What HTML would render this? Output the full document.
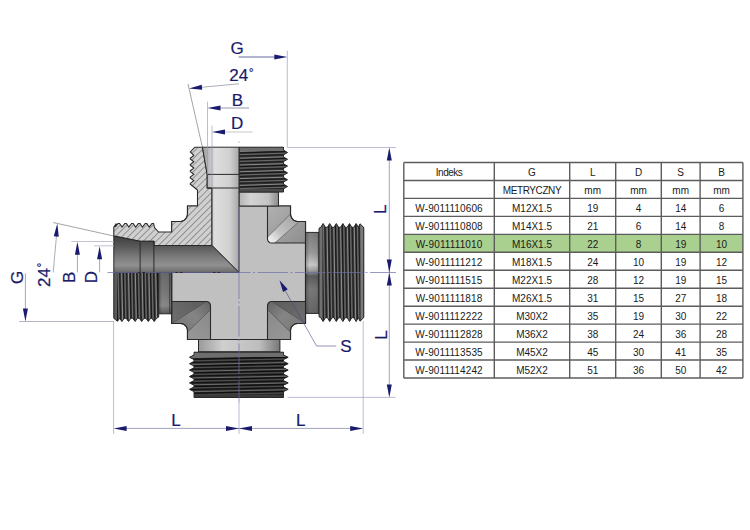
<!DOCTYPE html>
<html><head><meta charset="utf-8"><style>
html,body{margin:0;padding:0;background:#fff;width:750px;height:530px;overflow:hidden}
svg{display:block}
</style></head><body>
<svg width="750" height="530" viewBox="0 0 750 530">

<defs>
 <pattern id="hatch" patternUnits="userSpaceOnUse" width="4.6" height="4.6" patternTransform="rotate(45)">
  <rect width="4.6" height="4.6" fill="#d0d0d0"/>
  <line x1="0" y1="0" x2="0" y2="4.6" stroke="#505050" stroke-width="0.95"/>
 </pattern>
 <linearGradient id="boreTop" x1="0" y1="0" x2="1" y2="0">
  <stop offset="0" stop-color="#9a9a9a"/><stop offset="0.35" stop-color="#dedede"/><stop offset="0.75" stop-color="#d0d0d0"/><stop offset="1" stop-color="#a8a8a8"/>
 </linearGradient>
 <linearGradient id="boreLeft" x1="0" y1="0" x2="0" y2="1">
  <stop offset="0" stop-color="#3e3e3e"/><stop offset="0.3" stop-color="#5a5a5a"/><stop offset="0.6" stop-color="#7e7e7e"/><stop offset="0.8" stop-color="#909090"/><stop offset="1" stop-color="#6a6a6a"/>
 </linearGradient>
 <linearGradient id="neckV" x1="0" y1="0" x2="0" y2="1">
  <stop offset="0" stop-color="#7c7c7c"/><stop offset="0.25" stop-color="#9a9a9a"/><stop offset="0.4" stop-color="#cacaca"/><stop offset="0.47" stop-color="#a0a0a0"/><stop offset="0.54" stop-color="#5c5c5c"/><stop offset="0.7" stop-color="#7a7a7a"/><stop offset="1" stop-color="#666"/>
 </linearGradient>
 <linearGradient id="neckH" x1="0" y1="0" x2="1" y2="0">
  <stop offset="0" stop-color="#9a9a9a"/><stop offset="0.3" stop-color="#cfcfcf"/><stop offset="0.75" stop-color="#bdbdbd"/><stop offset="1" stop-color="#777"/>
 </linearGradient>
 <linearGradient id="neckShadeH" x1="0" y1="0" x2="1" y2="0">
  <stop offset="0" stop-color="#000" stop-opacity="0.25"/><stop offset="0.3" stop-color="#000" stop-opacity="0"/><stop offset="0.8" stop-color="#000" stop-opacity="0.05"/><stop offset="1" stop-color="#000" stop-opacity="0.25"/>
 </linearGradient>
 <linearGradient id="neckL" x1="0" y1="0" x2="0" y2="1">
  <stop offset="0" stop-color="#6a6a6a"/><stop offset="0.5" stop-color="#7a7a7a"/><stop offset="0.8" stop-color="#8a8a8a"/><stop offset="1" stop-color="#5a5a5a"/>
 </linearGradient>
 <linearGradient id="neckTop" x1="0" y1="0" x2="1" y2="0">
  <stop offset="0" stop-color="#b4b4b4"/><stop offset="0.3" stop-color="#d4d4d4"/><stop offset="0.75" stop-color="#c2c2c2"/><stop offset="1" stop-color="#8a8a8a"/>
 </linearGradient>
 <linearGradient id="thrH" x1="0" y1="0" x2="1" y2="0">
  <stop offset="0" stop-color="#3a3a3a"/><stop offset="0.5" stop-color="#454545"/><stop offset="1" stop-color="#2a2a2a"/>
 </linearGradient>
 <linearGradient id="thrV" x1="0" y1="0" x2="0" y2="1">
  <stop offset="0" stop-color="#3a3a3a"/><stop offset="0.5" stop-color="#454545"/><stop offset="1" stop-color="#2a2a2a"/>
 </linearGradient>
 <linearGradient id="cornerG" x1="0" y1="0" x2="1" y2="1">
  <stop offset="0" stop-color="#8a8a8a"/><stop offset="1" stop-color="#6e6e6e"/>
 </linearGradient>
 <linearGradient id="filTR" gradientUnits="userSpaceOnUse" x1="270" y1="242" x2="296" y2="216">
  <stop offset="0" stop-color="#f4f4f4"/><stop offset="0.35" stop-color="#c4c4c4"/><stop offset="1" stop-color="#a4a4a4"/>
 </linearGradient>
 <linearGradient id="trA" gradientUnits="userSpaceOnUse" x1="268" y1="206" x2="305" y2="243">
  <stop offset="0" stop-color="#b0b0b0"/><stop offset="0.5" stop-color="#a0a0a0"/><stop offset="1" stop-color="#8e8e8e"/>
 </linearGradient>
 <linearGradient id="brA" gradientUnits="userSpaceOnUse" x1="268" y1="310" x2="290" y2="339">
  <stop offset="0" stop-color="#8a8a8a"/><stop offset="1" stop-color="#979797"/>
 </linearGradient>
 <linearGradient id="brTop" gradientUnits="userSpaceOnUse" x1="280" y1="301" x2="305" y2="323">
  <stop offset="0" stop-color="#5e5e5e"/><stop offset="1" stop-color="#6e6e6e"/>
 </linearGradient>
 <linearGradient id="filBR" gradientUnits="userSpaceOnUse" x1="270" y1="304" x2="297" y2="327">
  <stop offset="0" stop-color="#6a6a6a"/><stop offset="0.5" stop-color="#858585"/><stop offset="1" stop-color="#7a7a7a"/>
 </linearGradient>
 <linearGradient id="blA" gradientUnits="userSpaceOnUse" x1="210" y1="310" x2="188" y2="339">
  <stop offset="0" stop-color="#8a8a8a"/><stop offset="1" stop-color="#979797"/>
 </linearGradient>
 <linearGradient id="blTop" gradientUnits="userSpaceOnUse" x1="198" y1="301" x2="172" y2="323">
  <stop offset="0" stop-color="#5e5e5e"/><stop offset="1" stop-color="#6e6e6e"/>
 </linearGradient>
 <linearGradient id="filBL" gradientUnits="userSpaceOnUse" x1="208" y1="304" x2="181" y2="327">
  <stop offset="0" stop-color="#6a6a6a"/><stop offset="0.5" stop-color="#858585"/><stop offset="1" stop-color="#7a7a7a"/>
 </linearGradient>
 <linearGradient id="filB" x1="0" y1="0" x2="1" y2="1">
  <stop offset="0" stop-color="#8a8a8a"/><stop offset="1" stop-color="#6a6a6a"/>
 </linearGradient>
</defs>

<path d="M187.5 206L290.5 206L290.5 214L290.64 215.46L291.07 216.87L291.76 218.17L292.7 219.3L293.83 220.24L295.13 220.93L296.54 221.36L298 221.5L305.5 221.5L305.5 323.5L297.5 323.5L297.5 323.5L296.13 323.63L294.82 324.03L293.61 324.68L292.55 325.55L291.68 326.61L291.03 327.82L290.63 329.13L290.5 330.5L290.5 339.5L187.5 339.5L187.5 330.5L187.5 330.5L187.37 329.13L186.97 327.82L186.32 326.61L185.45 325.55L184.39 324.68L183.18 324.03L181.87 323.63L180.5 323.5L171.7 323.5L171.7 221.5L180 221.5L180 221.5L181.46 221.36L182.87 220.93L184.17 220.24L185.3 219.3L186.24 218.17L186.93 216.87L187.36 215.46L187.5 214Z" fill="#c0c0c0" stroke="#2a2a2a" stroke-width="1.2"/>
<clipPath id="cTR"><path d="M267.5 206L290.5 206L290.5 214L290.64 215.46L291.07 216.87L291.76 218.17L292.7 219.3L293.83 220.24L295.13 220.93L296.54 221.36L298 221.5L305.5 221.5L305.5 243L271.5 243L271.5 243L269.97 242.7L268.67 241.83L267.8 240.53L267.5 239Z"/></clipPath>
<g clip-path="url(#cTR)"><path d="M267.5 206L290.5 206L290.5 214L290.64 215.46L291.07 216.87L291.76 218.17L292.7 219.3L293.83 220.24L295.13 220.93L296.54 221.36L298 221.5L305.5 221.5L305.5 243L271.5 243L271.5 243L269.97 242.7L268.67 241.83L267.8 240.53L267.5 239Z" fill="url(#trA)" stroke="none" stroke-width="0.7"/><path d="M266 238.6L290.5 214L290.5 214L290.64 215.46L291.07 216.87L291.76 218.17L292.7 219.3L293.83 220.24L295.13 220.93L296.54 221.36L298 221.5L298.6 222.2L273.7 244L266 244Z" fill="url(#filTR)" stroke="#5a5a5a" stroke-width="0.7"/></g>
<path d="M267.5 206L290.5 206L290.5 214L290.64 215.46L291.07 216.87L291.76 218.17L292.7 219.3L293.83 220.24L295.13 220.93L296.54 221.36L298 221.5L305.5 221.5L305.5 243L271.5 243L271.5 243L269.97 242.7L268.67 241.83L267.8 240.53L267.5 239Z" fill="none" stroke="#2a2a2a" stroke-width="1.1"/>
<clipPath id="cBR"><path d="M271.5 301.5L305.5 301.5L305.5 323.5L297.5 323.5L297.5 323.5L296.13 323.63L294.82 324.03L293.61 324.68L292.55 325.55L291.68 326.61L291.03 327.82L290.63 329.13L290.5 330.5L290.5 339.5L267.5 339.5L267.5 305.5L267.5 305.5L267.8 303.97L268.67 302.67L269.97 301.8L271.5 301.5Z"/></clipPath>
<g clip-path="url(#cBR)"><path d="M271.5 301.5L305.5 301.5L305.5 323.5L297.5 323.5L297.5 323.5L296.13 323.63L294.82 324.03L293.61 324.68L292.55 325.55L291.68 326.61L291.03 327.82L290.63 329.13L290.5 330.5L290.5 339.5L267.5 339.5L267.5 305.5L267.5 305.5L267.8 303.97L268.67 302.67L269.97 301.8L271.5 301.5Z" fill="url(#brA)" stroke="none" stroke-width="0.7"/><path d="M305.5 301L305.5 323.5L271.4 301.5Z" fill="url(#brTop)" stroke="none" stroke-width="0.7"/><path d="M266 306.4L271.4 301.5L305.5 323.5L297.5 323.5L297.5 323.5L296.13 323.63L294.82 324.03L293.61 324.68L292.55 325.55L291.68 326.61L291.03 327.82L290.63 329.13L290.5 330.5L289.4 331L266 308Z" fill="url(#filBR)" stroke="#4e4e4e" stroke-width="0.7"/></g>
<path d="M271.5 301.5L305.5 301.5L305.5 323.5L297.5 323.5L297.5 323.5L296.13 323.63L294.82 324.03L293.61 324.68L292.55 325.55L291.68 326.61L291.03 327.82L290.63 329.13L290.5 330.5L290.5 339.5L267.5 339.5L267.5 305.5L267.5 305.5L267.8 303.97L268.67 302.67L269.97 301.8L271.5 301.5Z" fill="none" stroke="#2a2a2a" stroke-width="1.1"/>
<clipPath id="cBL"><path d="M171.7 301.5L206.5 301.5L206.5 301.5L208.03 301.8L209.33 302.67L210.2 303.97L210.5 305.5L210.5 339.5L187.5 339.5L187.5 330.5L187.5 330.5L187.37 329.13L186.97 327.82L186.32 326.61L185.45 325.55L184.39 324.68L183.18 324.03L181.87 323.63L180.5 323.5L171.7 323.5Z"/></clipPath>
<g clip-path="url(#cBL)"><path d="M171.7 301.5L206.5 301.5L206.5 301.5L208.03 301.8L209.33 302.67L210.2 303.97L210.5 305.5L210.5 339.5L187.5 339.5L187.5 330.5L187.5 330.5L187.37 329.13L186.97 327.82L186.32 326.61L185.45 325.55L184.39 324.68L183.18 324.03L181.87 323.63L180.5 323.5L171.7 323.5Z" fill="url(#blA)" stroke="none" stroke-width="0.7"/><path d="M171.7 301L171.7 323.5L206.6 301.5Z" fill="url(#blTop)" stroke="none" stroke-width="0.7"/><path d="M212 306.4L206.6 301.5L171.7 323.5L180.5 323.5L187.5 330.5L187.37 329.13L186.97 327.82L186.32 326.61L185.45 325.55L184.39 324.68L183.18 324.03L181.87 323.63L180.5 323.5L188.6 331L212 308Z" fill="url(#filBL)" stroke="#4e4e4e" stroke-width="0.7"/></g>
<path d="M171.7 301.5L206.5 301.5L206.5 301.5L208.03 301.8L209.33 302.67L210.2 303.97L210.5 305.5L210.5 339.5L187.5 339.5L187.5 330.5L187.5 330.5L187.37 329.13L186.97 327.82L186.32 326.61L185.45 325.55L184.39 324.68L183.18 324.03L181.87 323.63L180.5 323.5L171.7 323.5Z" fill="none" stroke="#2a2a2a" stroke-width="1.1"/>
<rect x="239" y="192" width="39.5" height="14" fill="url(#neckTop)" stroke="#2a2a2a" stroke-width="1"/>
<rect x="198.5" y="339.5" width="81.4" height="12.2" fill="url(#neckH)" stroke="#2a2a2a" stroke-width="1"/>
<rect x="305.5" y="232.4" width="13.5" height="81" fill="url(#neckV)" stroke="#2a2a2a" stroke-width="1"/>
<rect x="305.5" y="232.4" width="13.5" height="81" fill="url(#neckShadeH)"/>
<rect x="158.5" y="272.5" width="13.2" height="41.3" fill="url(#neckL)" stroke="#2a2a2a" stroke-width="1"/>
<rect x="158.5" y="272.5" width="13.2" height="41.3" fill="url(#neckShadeH)"/>
<line x1="169.6" y1="273" x2="169.6" y2="313.3" stroke="#3a3a3a" stroke-width="0.8" />
<clipPath id="clp1"><path d="M239 147.2L283.5 147.2L283.5 150.2L287.5 152.5L283.5 154.8L283.5 157L287.5 159.3L283.5 161.6L283.5 163.8L287.5 166.1L283.5 168.4L283.5 170.6L287.5 172.9L283.5 175.2L283.5 177.4L287.5 179.7L283.5 182L283.5 184.2L287.5 186.5L283.5 188.8L283.5 192L239 192Z"/></clipPath>
<path d="M239 147.2L283.5 147.2L283.5 150.2L287.5 152.5L283.5 154.8L283.5 157L287.5 159.3L283.5 161.6L283.5 163.8L287.5 166.1L283.5 168.4L283.5 170.6L287.5 172.9L283.5 175.2L283.5 177.4L287.5 179.7L283.5 182L283.5 184.2L287.5 186.5L283.5 188.8L283.5 192L239 192Z" fill="#343434"/>
<g clip-path="url(#clp1)"><line x1="239" y1="144.6" x2="288" y2="143.1" stroke="#969696" stroke-width="0.9" /><line x1="239" y1="146.2" x2="288" y2="144.7" stroke="#141414" stroke-width="1.0" /><line x1="239" y1="147.8" x2="288" y2="146.3" stroke="#7a7a7a" stroke-width="0.8" /><line x1="239" y1="149.4" x2="288" y2="147.9" stroke="#1a1a1a" stroke-width="0.9" /><line x1="239" y1="151.4" x2="288" y2="149.9" stroke="#969696" stroke-width="0.9" /><line x1="239" y1="153" x2="288" y2="151.5" stroke="#141414" stroke-width="1.0" /><line x1="239" y1="154.6" x2="288" y2="153.1" stroke="#7a7a7a" stroke-width="0.8" /><line x1="239" y1="156.2" x2="288" y2="154.7" stroke="#1a1a1a" stroke-width="0.9" /><line x1="239" y1="158.2" x2="288" y2="156.7" stroke="#969696" stroke-width="0.9" /><line x1="239" y1="159.8" x2="288" y2="158.3" stroke="#141414" stroke-width="1.0" /><line x1="239" y1="161.4" x2="288" y2="159.9" stroke="#7a7a7a" stroke-width="0.8" /><line x1="239" y1="163" x2="288" y2="161.5" stroke="#1a1a1a" stroke-width="0.9" /><line x1="239" y1="165" x2="288" y2="163.5" stroke="#969696" stroke-width="0.9" /><line x1="239" y1="166.6" x2="288" y2="165.1" stroke="#141414" stroke-width="1.0" /><line x1="239" y1="168.2" x2="288" y2="166.7" stroke="#7a7a7a" stroke-width="0.8" /><line x1="239" y1="169.8" x2="288" y2="168.3" stroke="#1a1a1a" stroke-width="0.9" /><line x1="239" y1="171.8" x2="288" y2="170.3" stroke="#969696" stroke-width="0.9" /><line x1="239" y1="173.4" x2="288" y2="171.9" stroke="#141414" stroke-width="1.0" /><line x1="239" y1="175" x2="288" y2="173.5" stroke="#7a7a7a" stroke-width="0.8" /><line x1="239" y1="176.6" x2="288" y2="175.1" stroke="#1a1a1a" stroke-width="0.9" /><line x1="239" y1="178.6" x2="288" y2="177.1" stroke="#969696" stroke-width="0.9" /><line x1="239" y1="180.2" x2="288" y2="178.7" stroke="#141414" stroke-width="1.0" /><line x1="239" y1="181.8" x2="288" y2="180.3" stroke="#7a7a7a" stroke-width="0.8" /><line x1="239" y1="183.4" x2="288" y2="181.9" stroke="#1a1a1a" stroke-width="0.9" /><line x1="239" y1="185.4" x2="288" y2="183.9" stroke="#969696" stroke-width="0.9" /><line x1="239" y1="187" x2="288" y2="185.5" stroke="#141414" stroke-width="1.0" /><line x1="239" y1="188.6" x2="288" y2="187.1" stroke="#7a7a7a" stroke-width="0.8" /><line x1="239" y1="190.2" x2="288" y2="188.7" stroke="#1a1a1a" stroke-width="0.9" /><line x1="239" y1="192.2" x2="288" y2="190.7" stroke="#969696" stroke-width="0.9" /><line x1="239" y1="193.8" x2="288" y2="192.3" stroke="#141414" stroke-width="1.0" /><line x1="239" y1="195.4" x2="288" y2="193.9" stroke="#7a7a7a" stroke-width="0.8" /><line x1="239" y1="197" x2="288" y2="195.5" stroke="#1a1a1a" stroke-width="0.9" /><line x1="239" y1="199" x2="288" y2="197.5" stroke="#969696" stroke-width="0.9" /><line x1="239" y1="200.6" x2="288" y2="199.1" stroke="#141414" stroke-width="1.0" /><line x1="239" y1="202.2" x2="288" y2="200.7" stroke="#7a7a7a" stroke-width="0.8" /><line x1="239" y1="203.8" x2="288" y2="202.3" stroke="#1a1a1a" stroke-width="0.9" /><rect x="239" y="147" width="50" height="4" fill="#707070"/><rect x="239" y="189" width="50" height="3" fill="#4a4a4a"/></g>
<path d="M239 147.2L283.5 147.2L283.5 150.2L287.5 152.5L283.5 154.8L283.5 157L287.5 159.3L283.5 161.6L283.5 163.8L287.5 166.1L283.5 168.4L283.5 170.6L287.5 172.9L283.5 175.2L283.5 177.4L287.5 179.7L283.5 182L283.5 184.2L287.5 186.5L283.5 188.8L283.5 192L239 192Z" fill="none" stroke="#2a2a2a" stroke-width="1"/>
<clipPath id="clp2"><path d="M194 352.2L283.5 352.2L283.5 353.5L283.5 355L288.2 357.3L283.5 359.6L283.5 361.4L288.2 363.7L283.5 366L283.5 367.8L288.2 370.1L283.5 372.4L283.5 374.2L288.2 376.5L283.5 378.8L283.5 380.6L288.2 382.9L283.5 385.2L283.5 387L288.2 389.3L283.5 391.6L283.5 397.5L194 397.5L194 391.6L189.5 389.3L194 387L194 385.2L189.5 382.9L194 380.6L194 378.8L189.5 376.5L194 374.2L194 372.4L189.5 370.1L194 367.8L194 366L189.5 363.7L194 361.4L194 359.6L189.5 357.3L194 355L194 353.5Z"/></clipPath>
<path d="M194 352.2L283.5 352.2L283.5 353.5L283.5 355L288.2 357.3L283.5 359.6L283.5 361.4L288.2 363.7L283.5 366L283.5 367.8L288.2 370.1L283.5 372.4L283.5 374.2L288.2 376.5L283.5 378.8L283.5 380.6L288.2 382.9L283.5 385.2L283.5 387L288.2 389.3L283.5 391.6L283.5 397.5L194 397.5L194 391.6L189.5 389.3L194 387L194 385.2L189.5 382.9L194 380.6L194 378.8L189.5 376.5L194 374.2L194 372.4L189.5 370.1L194 367.8L194 366L189.5 363.7L194 361.4L194 359.6L189.5 357.3L194 355L194 353.5Z" fill="#303030"/>
<g clip-path="url(#clp2)"><line x1="189" y1="350.9" x2="289" y2="348.9" stroke="#7c7c7c" stroke-width="0.8" /><line x1="189" y1="352.5" x2="289" y2="350.5" stroke="#0e0e0e" stroke-width="1.3" /><line x1="189" y1="354.1" x2="289" y2="352.1" stroke="#5e5e5e" stroke-width="0.7" /><line x1="189" y1="355.7" x2="289" y2="353.7" stroke="#121212" stroke-width="1.2" /><line x1="189" y1="357.7" x2="289" y2="355.7" stroke="#7c7c7c" stroke-width="0.8" /><line x1="189" y1="359.3" x2="289" y2="357.3" stroke="#0e0e0e" stroke-width="1.3" /><line x1="189" y1="360.9" x2="289" y2="358.9" stroke="#5e5e5e" stroke-width="0.7" /><line x1="189" y1="362.5" x2="289" y2="360.5" stroke="#121212" stroke-width="1.2" /><line x1="189" y1="364.5" x2="289" y2="362.5" stroke="#7c7c7c" stroke-width="0.8" /><line x1="189" y1="366.1" x2="289" y2="364.1" stroke="#0e0e0e" stroke-width="1.3" /><line x1="189" y1="367.7" x2="289" y2="365.7" stroke="#5e5e5e" stroke-width="0.7" /><line x1="189" y1="369.3" x2="289" y2="367.3" stroke="#121212" stroke-width="1.2" /><line x1="189" y1="371.3" x2="289" y2="369.3" stroke="#7c7c7c" stroke-width="0.8" /><line x1="189" y1="372.9" x2="289" y2="370.9" stroke="#0e0e0e" stroke-width="1.3" /><line x1="189" y1="374.5" x2="289" y2="372.5" stroke="#5e5e5e" stroke-width="0.7" /><line x1="189" y1="376.1" x2="289" y2="374.1" stroke="#121212" stroke-width="1.2" /><line x1="189" y1="378.1" x2="289" y2="376.1" stroke="#7c7c7c" stroke-width="0.8" /><line x1="189" y1="379.7" x2="289" y2="377.7" stroke="#0e0e0e" stroke-width="1.3" /><line x1="189" y1="381.3" x2="289" y2="379.3" stroke="#5e5e5e" stroke-width="0.7" /><line x1="189" y1="382.9" x2="289" y2="380.9" stroke="#121212" stroke-width="1.2" /><line x1="189" y1="384.9" x2="289" y2="382.9" stroke="#7c7c7c" stroke-width="0.8" /><line x1="189" y1="386.5" x2="289" y2="384.5" stroke="#0e0e0e" stroke-width="1.3" /><line x1="189" y1="388.1" x2="289" y2="386.1" stroke="#5e5e5e" stroke-width="0.7" /><line x1="189" y1="389.7" x2="289" y2="387.7" stroke="#121212" stroke-width="1.2" /><line x1="189" y1="391.7" x2="289" y2="389.7" stroke="#7c7c7c" stroke-width="0.8" /><line x1="189" y1="393.3" x2="289" y2="391.3" stroke="#0e0e0e" stroke-width="1.3" /><line x1="189" y1="394.9" x2="289" y2="392.9" stroke="#5e5e5e" stroke-width="0.7" /><line x1="189" y1="396.5" x2="289" y2="394.5" stroke="#121212" stroke-width="1.2" /><line x1="189" y1="398.5" x2="289" y2="396.5" stroke="#7c7c7c" stroke-width="0.8" /><line x1="189" y1="400.1" x2="289" y2="398.1" stroke="#0e0e0e" stroke-width="1.3" /><line x1="189" y1="401.7" x2="289" y2="399.7" stroke="#5e5e5e" stroke-width="0.7" /><line x1="189" y1="403.3" x2="289" y2="401.3" stroke="#121212" stroke-width="1.2" /><line x1="189" y1="405.3" x2="289" y2="403.3" stroke="#7c7c7c" stroke-width="0.8" /><line x1="189" y1="406.9" x2="289" y2="404.9" stroke="#0e0e0e" stroke-width="1.3" /><line x1="189" y1="408.5" x2="289" y2="406.5" stroke="#5e5e5e" stroke-width="0.7" /><line x1="189" y1="410.1" x2="289" y2="408.1" stroke="#121212" stroke-width="1.2" /><rect x="189" y="352" width="100" height="5" fill="#6e6e6e"/><rect x="189" y="394.5" width="100" height="3" fill="#3a3a3a"/></g>
<path d="M194 352.2L283.5 352.2L283.5 353.5L283.5 355L288.2 357.3L283.5 359.6L283.5 361.4L288.2 363.7L283.5 366L283.5 367.8L288.2 370.1L283.5 372.4L283.5 374.2L288.2 376.5L283.5 378.8L283.5 380.6L288.2 382.9L283.5 385.2L283.5 387L288.2 389.3L283.5 391.6L283.5 397.5L194 397.5L194 391.6L189.5 389.3L194 387L194 385.2L189.5 382.9L194 380.6L194 378.8L189.5 376.5L194 374.2L194 372.4L189.5 370.1L194 367.8L194 366L189.5 363.7L194 361.4L194 359.6L189.5 357.3L194 355L194 353.5Z" fill="none" stroke="#2a2a2a" stroke-width="1"/>
<clipPath id="clp3"><path d="M319 228.3L320.8 227.3L323.1 223.5L325.4 227.3L327.4 227.3L329.7 223.5L332 227.3L334 227.3L336.3 223.5L338.6 227.3L340.6 227.3L342.9 223.5L345.2 227.3L347.2 227.3L349.5 223.5L351.8 227.3L353.8 227.3L356.1 223.5L358.4 227.3L360 223.8L363.8 227.5L363.8 317.5L360 321.2L358.4 317.7L356.1 321.5L353.8 317.7L351.8 317.7L349.5 321.5L347.2 317.7L345.2 317.7L342.9 321.5L340.6 317.7L338.6 317.7L336.3 321.5L334 317.7L332 317.7L329.7 321.5L327.4 317.7L325.4 317.7L323.1 321.5L320.8 317.7L319 316.7Z"/></clipPath>
<path d="M319 228.3L320.8 227.3L323.1 223.5L325.4 227.3L327.4 227.3L329.7 223.5L332 227.3L334 227.3L336.3 223.5L338.6 227.3L340.6 227.3L342.9 223.5L345.2 227.3L347.2 227.3L349.5 223.5L351.8 227.3L353.8 227.3L356.1 223.5L358.4 227.3L360 223.8L363.8 227.5L363.8 317.5L360 321.2L358.4 317.7L356.1 321.5L353.8 317.7L351.8 317.7L349.5 321.5L347.2 317.7L345.2 317.7L342.9 321.5L340.6 317.7L338.6 317.7L336.3 321.5L334 317.7L332 317.7L329.7 321.5L327.4 317.7L325.4 317.7L323.1 321.5L320.8 317.7L319 316.7Z" fill="#404040"/>
<g clip-path="url(#clp3)"><line x1="313.4" y1="224" x2="314.9" y2="322" stroke="#969696" stroke-width="0.9" /><line x1="315" y1="224" x2="316.5" y2="322" stroke="#141414" stroke-width="1.0" /><line x1="316.6" y1="224" x2="318.1" y2="322" stroke="#7a7a7a" stroke-width="0.8" /><line x1="318.2" y1="224" x2="319.7" y2="322" stroke="#1a1a1a" stroke-width="0.9" /><line x1="320.2" y1="224" x2="321.7" y2="322" stroke="#969696" stroke-width="0.9" /><line x1="321.8" y1="224" x2="323.3" y2="322" stroke="#141414" stroke-width="1.0" /><line x1="323.4" y1="224" x2="324.9" y2="322" stroke="#7a7a7a" stroke-width="0.8" /><line x1="325" y1="224" x2="326.5" y2="322" stroke="#1a1a1a" stroke-width="0.9" /><line x1="327" y1="224" x2="328.5" y2="322" stroke="#969696" stroke-width="0.9" /><line x1="328.6" y1="224" x2="330.1" y2="322" stroke="#141414" stroke-width="1.0" /><line x1="330.2" y1="224" x2="331.7" y2="322" stroke="#7a7a7a" stroke-width="0.8" /><line x1="331.8" y1="224" x2="333.3" y2="322" stroke="#1a1a1a" stroke-width="0.9" /><line x1="333.8" y1="224" x2="335.3" y2="322" stroke="#969696" stroke-width="0.9" /><line x1="335.4" y1="224" x2="336.9" y2="322" stroke="#141414" stroke-width="1.0" /><line x1="337" y1="224" x2="338.5" y2="322" stroke="#7a7a7a" stroke-width="0.8" /><line x1="338.6" y1="224" x2="340.1" y2="322" stroke="#1a1a1a" stroke-width="0.9" /><line x1="340.6" y1="224" x2="342.1" y2="322" stroke="#969696" stroke-width="0.9" /><line x1="342.2" y1="224" x2="343.7" y2="322" stroke="#141414" stroke-width="1.0" /><line x1="343.8" y1="224" x2="345.3" y2="322" stroke="#7a7a7a" stroke-width="0.8" /><line x1="345.4" y1="224" x2="346.9" y2="322" stroke="#1a1a1a" stroke-width="0.9" /><line x1="347.4" y1="224" x2="348.9" y2="322" stroke="#969696" stroke-width="0.9" /><line x1="349" y1="224" x2="350.5" y2="322" stroke="#141414" stroke-width="1.0" /><line x1="350.6" y1="224" x2="352.1" y2="322" stroke="#7a7a7a" stroke-width="0.8" /><line x1="352.2" y1="224" x2="353.7" y2="322" stroke="#1a1a1a" stroke-width="0.9" /><line x1="354.2" y1="224" x2="355.7" y2="322" stroke="#969696" stroke-width="0.9" /><line x1="355.8" y1="224" x2="357.3" y2="322" stroke="#141414" stroke-width="1.0" /><line x1="357.4" y1="224" x2="358.9" y2="322" stroke="#7a7a7a" stroke-width="0.8" /><line x1="359" y1="224" x2="360.5" y2="322" stroke="#1a1a1a" stroke-width="0.9" /><line x1="361" y1="224" x2="362.5" y2="322" stroke="#969696" stroke-width="0.9" /><line x1="362.6" y1="224" x2="364.1" y2="322" stroke="#141414" stroke-width="1.0" /><line x1="364.2" y1="224" x2="365.7" y2="322" stroke="#7a7a7a" stroke-width="0.8" /><line x1="365.8" y1="224" x2="367.3" y2="322" stroke="#1a1a1a" stroke-width="0.9" /><line x1="367.8" y1="224" x2="369.3" y2="322" stroke="#969696" stroke-width="0.9" /><line x1="369.4" y1="224" x2="370.9" y2="322" stroke="#141414" stroke-width="1.0" /><line x1="371" y1="224" x2="372.5" y2="322" stroke="#7a7a7a" stroke-width="0.8" /><line x1="372.6" y1="224" x2="374.1" y2="322" stroke="#1a1a1a" stroke-width="0.9" /><rect x="319" y="223" width="3.5" height="100" fill="#707070"/><rect x="360.5" y="223" width="3.3" height="100" fill="#7a7a7a"/></g>
<path d="M319 228.3L320.8 227.3L323.1 223.5L325.4 227.3L327.4 227.3L329.7 223.5L332 227.3L334 227.3L336.3 223.5L338.6 227.3L340.6 227.3L342.9 223.5L345.2 227.3L347.2 227.3L349.5 223.5L351.8 227.3L353.8 227.3L356.1 223.5L358.4 227.3L360 223.8L363.8 227.5L363.8 317.5L360 321.2L358.4 317.7L356.1 321.5L353.8 317.7L351.8 317.7L349.5 321.5L347.2 317.7L345.2 317.7L342.9 321.5L340.6 317.7L338.6 317.7L336.3 321.5L334 317.7L332 317.7L329.7 321.5L327.4 317.7L325.4 317.7L323.1 321.5L320.8 317.7L319 316.7Z" fill="none" stroke="#2a2a2a" stroke-width="1"/>
<clipPath id="clp4"><path d="M113.8 272.5L158.7 272.5L158.7 317L156.5 318.3L154.2 321.5L151.9 318.3L150.6 318.3L148.3 321.5L146 318.3L144 318.3L141.7 321.5L139.4 318.3L137.4 318.3L135.1 321.5L132.8 318.3L130.8 318.3L128.5 321.5L126.2 318.3L124.2 318.3L121.9 321.5L119.6 318.3L117.5 321.3L113.8 318.3Z"/></clipPath>
<path d="M113.8 272.5L158.7 272.5L158.7 317L156.5 318.3L154.2 321.5L151.9 318.3L150.6 318.3L148.3 321.5L146 318.3L144 318.3L141.7 321.5L139.4 318.3L137.4 318.3L135.1 321.5L132.8 318.3L130.8 318.3L128.5 321.5L126.2 318.3L124.2 318.3L121.9 321.5L119.6 318.3L117.5 321.3L113.8 318.3Z" fill="#404040"/>
<g clip-path="url(#clp4)"><line x1="108.1" y1="272.5" x2="109.1" y2="322" stroke="#969696" stroke-width="0.9" /><line x1="109.7" y1="272.5" x2="110.7" y2="322" stroke="#141414" stroke-width="1.0" /><line x1="111.3" y1="272.5" x2="112.3" y2="322" stroke="#7a7a7a" stroke-width="0.8" /><line x1="112.9" y1="272.5" x2="113.9" y2="322" stroke="#1a1a1a" stroke-width="0.9" /><line x1="114.9" y1="272.5" x2="115.9" y2="322" stroke="#969696" stroke-width="0.9" /><line x1="116.5" y1="272.5" x2="117.5" y2="322" stroke="#141414" stroke-width="1.0" /><line x1="118.1" y1="272.5" x2="119.1" y2="322" stroke="#7a7a7a" stroke-width="0.8" /><line x1="119.7" y1="272.5" x2="120.7" y2="322" stroke="#1a1a1a" stroke-width="0.9" /><line x1="121.7" y1="272.5" x2="122.7" y2="322" stroke="#969696" stroke-width="0.9" /><line x1="123.3" y1="272.5" x2="124.3" y2="322" stroke="#141414" stroke-width="1.0" /><line x1="124.9" y1="272.5" x2="125.9" y2="322" stroke="#7a7a7a" stroke-width="0.8" /><line x1="126.5" y1="272.5" x2="127.5" y2="322" stroke="#1a1a1a" stroke-width="0.9" /><line x1="128.5" y1="272.5" x2="129.5" y2="322" stroke="#969696" stroke-width="0.9" /><line x1="130.1" y1="272.5" x2="131.1" y2="322" stroke="#141414" stroke-width="1.0" /><line x1="131.7" y1="272.5" x2="132.7" y2="322" stroke="#7a7a7a" stroke-width="0.8" /><line x1="133.3" y1="272.5" x2="134.3" y2="322" stroke="#1a1a1a" stroke-width="0.9" /><line x1="135.3" y1="272.5" x2="136.3" y2="322" stroke="#969696" stroke-width="0.9" /><line x1="136.9" y1="272.5" x2="137.9" y2="322" stroke="#141414" stroke-width="1.0" /><line x1="138.5" y1="272.5" x2="139.5" y2="322" stroke="#7a7a7a" stroke-width="0.8" /><line x1="140.1" y1="272.5" x2="141.1" y2="322" stroke="#1a1a1a" stroke-width="0.9" /><line x1="142.1" y1="272.5" x2="143.1" y2="322" stroke="#969696" stroke-width="0.9" /><line x1="143.7" y1="272.5" x2="144.7" y2="322" stroke="#141414" stroke-width="1.0" /><line x1="145.3" y1="272.5" x2="146.3" y2="322" stroke="#7a7a7a" stroke-width="0.8" /><line x1="146.9" y1="272.5" x2="147.9" y2="322" stroke="#1a1a1a" stroke-width="0.9" /><line x1="148.9" y1="272.5" x2="149.9" y2="322" stroke="#969696" stroke-width="0.9" /><line x1="150.5" y1="272.5" x2="151.5" y2="322" stroke="#141414" stroke-width="1.0" /><line x1="152.1" y1="272.5" x2="153.1" y2="322" stroke="#7a7a7a" stroke-width="0.8" /><line x1="153.7" y1="272.5" x2="154.7" y2="322" stroke="#1a1a1a" stroke-width="0.9" /><line x1="155.7" y1="272.5" x2="156.7" y2="322" stroke="#969696" stroke-width="0.9" /><line x1="157.3" y1="272.5" x2="158.3" y2="322" stroke="#141414" stroke-width="1.0" /><line x1="158.9" y1="272.5" x2="159.9" y2="322" stroke="#7a7a7a" stroke-width="0.8" /><line x1="160.5" y1="272.5" x2="161.5" y2="322" stroke="#1a1a1a" stroke-width="0.9" /><line x1="162.5" y1="272.5" x2="163.5" y2="322" stroke="#969696" stroke-width="0.9" /><line x1="164.1" y1="272.5" x2="165.1" y2="322" stroke="#141414" stroke-width="1.0" /><line x1="165.7" y1="272.5" x2="166.7" y2="322" stroke="#7a7a7a" stroke-width="0.8" /><line x1="167.3" y1="272.5" x2="168.3" y2="322" stroke="#1a1a1a" stroke-width="0.9" /><rect x="113.8" y="272" width="3.2" height="52" fill="#5a5a5a"/></g>
<path d="M113.8 272.5L158.7 272.5L158.7 317L156.5 318.3L154.2 321.5L151.9 318.3L150.6 318.3L148.3 321.5L146 318.3L144 318.3L141.7 321.5L139.4 318.3L137.4 318.3L135.1 321.5L132.8 318.3L130.8 318.3L128.5 321.5L126.2 318.3L124.2 318.3L121.9 321.5L119.6 318.3L117.5 321.3L113.8 318.3Z" fill="none" stroke="#2a2a2a" stroke-width="1"/>
<path d="M202.4 147.2L194.8 147.2L190.3 151.9L193.8 155.45L190.3 158.2L190.3 159L193.8 161.75L190.3 164.5L190.3 165.3L193.8 168.05L190.3 170.8L190.3 171.6L193.8 174.35L190.3 177.1L190.3 177.9L193.8 180.65L190.3 183.4L190.3 184.2L193.8 187L197.5 190L197.5 206L187.5 206L187.5 214L187.5 214L187.36 215.46L186.93 216.87L186.24 218.17L185.3 219.3L184.17 220.24L182.87 220.93L181.46 221.36L180 221.5L171.7 221.5L171.7 232L158.5 232L154.5 227.5L153.6 223.5L152 223.5L149.2 227L146.8 223.5L145.2 223.5L142.4 227L140 223.5L138.4 223.5L135.6 227L133.2 223.5L131.6 223.5L128.8 227L126.4 223.5L124.8 223.5L122 227L119.6 223.5L118 223.5L115.2 227L116.3 223.5L113.8 227.2L113.8 236L140.1 241.3L153.9 241.3L153.9 245.5L212 245.5L212 188L207.2 188L207.2 174.4Z" fill="url(#hatch)" stroke="#2a2a2a" stroke-width="1.1"/>
<path d="M202.4 147.2L239 147.2L239 272.5L212 245.5L212 188L207.2 188L207.2 174.4Z" fill="url(#boreTop)" stroke="#2a2a2a" stroke-width="1"/>
<line x1="207.2" y1="174.4" x2="239" y2="174.4" stroke="#2a2a2a" stroke-width="1" />
<line x1="207.2" y1="188" x2="239" y2="188" stroke="#2a2a2a" stroke-width="1" />
<path d="M113.8 236L140.1 241.3L153.9 241.3L153.9 245.5L212 245.5L239 272.5L113.8 272.5Z" fill="url(#boreLeft)" stroke="#2a2a2a" stroke-width="1"/>
<line x1="140.1" y1="241.3" x2="140.1" y2="272.5" stroke="#2a2a2a" stroke-width="1" />
<line x1="153.9" y1="241.3" x2="153.9" y2="272.5" stroke="#2a2a2a" stroke-width="1" />
<line x1="239" y1="141" x2="239" y2="143" stroke="#b0b0d0" stroke-width="0.7" />
<line x1="239" y1="206" x2="239" y2="403" stroke="#6c6cac" stroke-width="0.7" stroke-dasharray="30.5 2.5 2 2.5" stroke-dashoffset="-25"/>
<line x1="107.5" y1="272.5" x2="396" y2="272.5" stroke="#6c6cac" stroke-width="0.7" stroke-dasharray="30.5 2.5 2 2.5"/>
<line x1="287.3" y1="50.7" x2="287.3" y2="147.5" stroke="#9898c0" stroke-width="0.65" />
<line x1="238.7" y1="57" x2="276" y2="57" stroke="#2a2a72" stroke-width="0.7" />
<path d="M287.3 57L274.3 59.5L274.3 54.5Z" fill="#1a1a6e"/>
<line x1="188" y1="84" x2="202.4" y2="147.2" stroke="#666" stroke-width="0.6" />
<line x1="239" y1="83.8" x2="198" y2="87.6" stroke="#8a8a9a" stroke-width="0.7" />
<path d="M189 88.5L201.7 84.77L202.18 89.74Z" fill="#1a1a6e"/>
<line x1="207.5" y1="101.7" x2="207.5" y2="174.4" stroke="#9898c0" stroke-width="0.65" />
<line x1="218" y1="108" x2="249" y2="108" stroke="#50507a" stroke-width="0.6" />
<path d="M207.5 108L220.5 105.5L220.5 110.5Z" fill="#1a1a6e"/>
<line x1="212" y1="125.6" x2="212" y2="188" stroke="#9898c0" stroke-width="0.65" />
<line x1="222" y1="132" x2="252.7" y2="132" stroke="#c8c8c8" stroke-width="1.0" />
<path d="M212 132L225 129.5L225 134.5Z" fill="#1a1a6e"/>
<line x1="287.5" y1="147.5" x2="396" y2="147.5" stroke="#9898c0" stroke-width="0.65" />
<line x1="287.6" y1="397.4" x2="395.6" y2="397.4" stroke="#9898c0" stroke-width="0.65" />
<line x1="389.3" y1="150" x2="389.3" y2="395" stroke="#8a8ab0" stroke-width="0.8" />
<path d="M389.3 147.5L391.8 160.5L386.8 160.5Z" fill="#1a1a6e"/>
<path d="M389.3 272.5L386.8 259.5L391.8 259.5Z" fill="#1a1a6e"/>
<path d="M389.3 272.5L391.8 285.5L386.8 285.5Z" fill="#1a1a6e"/>
<path d="M389.3 397.4L386.8 384.4L391.8 384.4Z" fill="#1a1a6e"/>
<line x1="53.2" y1="222.5" x2="113.8" y2="236" stroke="#666" stroke-width="0.6" />
<line x1="57" y1="230" x2="53.2" y2="272.5" stroke="#8a8a9a" stroke-width="0.7" />
<path d="M57.3 223.5L58.77 236.66L53.79 236.26Z" fill="#1a1a6e"/>
<line x1="71.3" y1="241.5" x2="113.8" y2="241.5" stroke="#b4b4c8" stroke-width="0.8" />
<line x1="77.4" y1="250" x2="77.4" y2="272.3" stroke="#6a6a90" stroke-width="0.6" />
<path d="M77.4 241.7L79.9 254.7L74.9 254.7Z" fill="#1a1a6e"/>
<line x1="94" y1="245.8" x2="113.8" y2="245.8" stroke="#b4b4c8" stroke-width="0.8" />
<line x1="99.6" y1="254" x2="99.6" y2="272.3" stroke="#6a6a90" stroke-width="0.6" />
<path d="M99.6 246.2L102.1 259.2L97.1 259.2Z" fill="#1a1a6e"/>
<line x1="25.4" y1="273.4" x2="25.4" y2="312" stroke="#6a6a90" stroke-width="0.6" />
<path d="M25.4 321.4L22.9 308.4L27.9 308.4Z" fill="#1a1a6e"/>
<line x1="19.2" y1="321.5" x2="113.8" y2="321.5" stroke="#a0a0bc" stroke-width="0.8" />
<line x1="113.6" y1="321.6" x2="113.6" y2="434" stroke="#9898c0" stroke-width="0.65" />
<line x1="239" y1="403" x2="239" y2="434" stroke="#9898c0" stroke-width="0.65" />
<line x1="363.2" y1="321" x2="363.2" y2="434" stroke="#9898c0" stroke-width="0.65" />
<line x1="120" y1="428.4" x2="357" y2="428.4" stroke="#8a8ab0" stroke-width="0.8" />
<path d="M113.6 428.4L126.6 425.9L126.6 430.9Z" fill="#1a1a6e"/>
<path d="M239 428.4L226 430.9L226 425.9Z" fill="#1a1a6e"/>
<path d="M239 428.4L252 425.9L252 430.9Z" fill="#1a1a6e"/>
<path d="M363.2 428.4L350.2 430.9L350.2 425.9Z" fill="#1a1a6e"/>
<line x1="282" y1="285" x2="316.6" y2="346" stroke="#4a4a88" stroke-width="0.6" />
<line x1="316.6" y1="346" x2="336.2" y2="346" stroke="#4a4a88" stroke-width="0.6" />
<path d="M279.5 280.2L287.76 289.31L283.06 291.97Z" fill="#1a1a6e"/>
<text x="237" y="54.4" font-size="17" text-anchor="middle" font-family="Liberation Sans, sans-serif" fill="#1a1a6a" stroke="#1a1a6a" stroke-width="0.2">G</text>
<text x="229.2" y="81" font-size="17" text-anchor="start" font-family="Liberation Sans, sans-serif" fill="#1a1a6a" stroke="#1a1a6a" stroke-width="0.2">24<tspan font-size="12" dx="0.6" dy="-4">°</tspan></text>
<text x="237.3" y="105.5" font-size="17" text-anchor="middle" font-family="Liberation Sans, sans-serif" fill="#1a1a6a" stroke="#1a1a6a" stroke-width="0.2">B</text>
<text x="237.2" y="128.5" font-size="17" text-anchor="middle" font-family="Liberation Sans, sans-serif" fill="#1a1a6a" stroke="#1a1a6a" stroke-width="0.2">D</text>
<text x="386.3" y="209.2" font-size="17" text-anchor="middle" font-family="Liberation Sans, sans-serif" fill="#1a1a6a" stroke="#1a1a6a" stroke-width="0.2" transform="rotate(-90 386.3 209.2)">L</text>
<text x="386.5" y="335" font-size="17" text-anchor="middle" font-family="Liberation Sans, sans-serif" fill="#1a1a6a" stroke="#1a1a6a" stroke-width="0.2" transform="rotate(-90 386.5 335)">L</text>
<text x="176" y="425.6" font-size="17" text-anchor="middle" font-family="Liberation Sans, sans-serif" fill="#1a1a6a" stroke="#1a1a6a" stroke-width="0.2">L</text>
<text x="300.8" y="425.6" font-size="17" text-anchor="middle" font-family="Liberation Sans, sans-serif" fill="#1a1a6a" stroke="#1a1a6a" stroke-width="0.2">L</text>
<text x="346" y="352.2" font-size="17" text-anchor="middle" font-family="Liberation Sans, sans-serif" fill="#1a1a6a" stroke="#1a1a6a" stroke-width="0.2">S</text>
<text x="23.1" y="277.3" font-size="17" text-anchor="middle" font-family="Liberation Sans, sans-serif" fill="#1a1a6a" stroke="#1a1a6a" stroke-width="0.2" transform="rotate(-90 23.1 277.3)">G</text>
<text x="50.3" y="287" font-size="17" text-anchor="start" font-family="Liberation Sans, sans-serif" fill="#1a1a6a" stroke="#1a1a6a" stroke-width="0.2" transform="rotate(-90 50.3 287)">24<tspan font-size="12" dx="0.6" dy="-4">°</tspan></text>
<text x="74.7" y="277.2" font-size="17" text-anchor="middle" font-family="Liberation Sans, sans-serif" fill="#1a1a6a" stroke="#1a1a6a" stroke-width="0.2" transform="rotate(-90 74.7 277.2)">B</text>
<text x="97.4" y="277.2" font-size="17" text-anchor="middle" font-family="Liberation Sans, sans-serif" fill="#1a1a6a" stroke="#1a1a6a" stroke-width="0.2" transform="rotate(-90 97.4 277.2)">D</text>
<rect x="403.8" y="234.34" width="339.1" height="17.96" fill="#a9d08e"/>
<line x1="403.8" y1="162.5" x2="742.9" y2="162.5" stroke="#5c5c5c" stroke-width="1.4" />
<line x1="403.8" y1="180.46" x2="742.9" y2="180.46" stroke="#5c5c5c" stroke-width="1.4" />
<line x1="403.8" y1="198.42" x2="742.9" y2="198.42" stroke="#5c5c5c" stroke-width="1.4" />
<line x1="403.8" y1="216.38" x2="742.9" y2="216.38" stroke="#5c5c5c" stroke-width="1.4" />
<line x1="403.8" y1="234.34" x2="742.9" y2="234.34" stroke="#5c5c5c" stroke-width="1.4" />
<line x1="403.8" y1="252.3" x2="742.9" y2="252.3" stroke="#5c5c5c" stroke-width="1.4" />
<line x1="403.8" y1="270.26" x2="742.9" y2="270.26" stroke="#5c5c5c" stroke-width="1.4" />
<line x1="403.8" y1="288.22" x2="742.9" y2="288.22" stroke="#5c5c5c" stroke-width="1.4" />
<line x1="403.8" y1="306.18" x2="742.9" y2="306.18" stroke="#5c5c5c" stroke-width="1.4" />
<line x1="403.8" y1="324.14" x2="742.9" y2="324.14" stroke="#5c5c5c" stroke-width="1.4" />
<line x1="403.8" y1="342.1" x2="742.9" y2="342.1" stroke="#5c5c5c" stroke-width="1.4" />
<line x1="403.8" y1="360.06" x2="742.9" y2="360.06" stroke="#5c5c5c" stroke-width="1.4" />
<line x1="403.8" y1="378.02" x2="742.9" y2="378.02" stroke="#5c5c5c" stroke-width="1.4" />
<line x1="403.8" y1="162.5" x2="403.8" y2="378.02" stroke="#5c5c5c" stroke-width="1.4" />
<line x1="494.3" y1="162.5" x2="494.3" y2="378.02" stroke="#5c5c5c" stroke-width="1.4" />
<line x1="569.7" y1="162.5" x2="569.7" y2="378.02" stroke="#5c5c5c" stroke-width="1.4" />
<line x1="615.7" y1="162.5" x2="615.7" y2="378.02" stroke="#5c5c5c" stroke-width="1.4" />
<line x1="661.3" y1="162.5" x2="661.3" y2="378.02" stroke="#5c5c5c" stroke-width="1.4" />
<line x1="700.1" y1="162.5" x2="700.1" y2="378.02" stroke="#5c5c5c" stroke-width="1.4" />
<line x1="742.9" y1="162.5" x2="742.9" y2="378.02" stroke="#5c5c5c" stroke-width="1.4" />
<text x="449.05" y="176" font-size="10" text-anchor="middle" font-family="Liberation Sans, sans-serif" fill="#1a1a1a" letter-spacing="-0.5">Indeks</text>
<text x="532" y="176" font-size="10" text-anchor="middle" font-family="Liberation Sans, sans-serif" fill="#1a1a1a">G</text>
<text x="592.7" y="176" font-size="10" text-anchor="middle" font-family="Liberation Sans, sans-serif" fill="#1a1a1a">L</text>
<text x="638.5" y="176" font-size="10" text-anchor="middle" font-family="Liberation Sans, sans-serif" fill="#1a1a1a">D</text>
<text x="680.7" y="176" font-size="10" text-anchor="middle" font-family="Liberation Sans, sans-serif" fill="#1a1a1a">S</text>
<text x="721.5" y="176" font-size="10" text-anchor="middle" font-family="Liberation Sans, sans-serif" fill="#1a1a1a">B</text>
<text x="532" y="193.96" font-size="10" text-anchor="middle" font-family="Liberation Sans, sans-serif" fill="#1a1a1a" letter-spacing="-0.4">METRYCZNY</text>
<text x="592.7" y="193.96" font-size="10" text-anchor="middle" font-family="Liberation Sans, sans-serif" fill="#1a1a1a">mm</text>
<text x="638.5" y="193.96" font-size="10" text-anchor="middle" font-family="Liberation Sans, sans-serif" fill="#1a1a1a">mm</text>
<text x="680.7" y="193.96" font-size="10" text-anchor="middle" font-family="Liberation Sans, sans-serif" fill="#1a1a1a">mm</text>
<text x="721.5" y="193.96" font-size="10" text-anchor="middle" font-family="Liberation Sans, sans-serif" fill="#1a1a1a">mm</text>
<text x="449.05" y="211.92" font-size="10" text-anchor="middle" font-family="Liberation Sans, sans-serif" fill="#1a1a1a" letter-spacing="0.12">W-9011110606</text>
<text x="532" y="211.92" font-size="10" text-anchor="middle" font-family="Liberation Sans, sans-serif" fill="#1a1a1a">M12X1.5</text>
<text x="592.7" y="211.92" font-size="10" text-anchor="middle" font-family="Liberation Sans, sans-serif" fill="#1a1a1a">19</text>
<text x="638.5" y="211.92" font-size="10" text-anchor="middle" font-family="Liberation Sans, sans-serif" fill="#1a1a1a">4</text>
<text x="680.7" y="211.92" font-size="10" text-anchor="middle" font-family="Liberation Sans, sans-serif" fill="#1a1a1a">14</text>
<text x="721.5" y="211.92" font-size="10" text-anchor="middle" font-family="Liberation Sans, sans-serif" fill="#1a1a1a">6</text>
<text x="449.05" y="229.88" font-size="10" text-anchor="middle" font-family="Liberation Sans, sans-serif" fill="#1a1a1a" letter-spacing="0.12">W-9011110808</text>
<text x="532" y="229.88" font-size="10" text-anchor="middle" font-family="Liberation Sans, sans-serif" fill="#1a1a1a">M14X1.5</text>
<text x="592.7" y="229.88" font-size="10" text-anchor="middle" font-family="Liberation Sans, sans-serif" fill="#1a1a1a">21</text>
<text x="638.5" y="229.88" font-size="10" text-anchor="middle" font-family="Liberation Sans, sans-serif" fill="#1a1a1a">6</text>
<text x="680.7" y="229.88" font-size="10" text-anchor="middle" font-family="Liberation Sans, sans-serif" fill="#1a1a1a">14</text>
<text x="721.5" y="229.88" font-size="10" text-anchor="middle" font-family="Liberation Sans, sans-serif" fill="#1a1a1a">8</text>
<text x="449.05" y="247.84" font-size="10" text-anchor="middle" font-family="Liberation Sans, sans-serif" fill="#1a1a1a" letter-spacing="0.12">W-9011111010</text>
<text x="532" y="247.84" font-size="10" text-anchor="middle" font-family="Liberation Sans, sans-serif" fill="#1a1a1a">M16X1.5</text>
<text x="592.7" y="247.84" font-size="10" text-anchor="middle" font-family="Liberation Sans, sans-serif" fill="#1a1a1a">22</text>
<text x="638.5" y="247.84" font-size="10" text-anchor="middle" font-family="Liberation Sans, sans-serif" fill="#1a1a1a">8</text>
<text x="680.7" y="247.84" font-size="10" text-anchor="middle" font-family="Liberation Sans, sans-serif" fill="#1a1a1a">19</text>
<text x="721.5" y="247.84" font-size="10" text-anchor="middle" font-family="Liberation Sans, sans-serif" fill="#1a1a1a">10</text>
<text x="449.05" y="265.8" font-size="10" text-anchor="middle" font-family="Liberation Sans, sans-serif" fill="#1a1a1a" letter-spacing="0.12">W-9011111212</text>
<text x="532" y="265.8" font-size="10" text-anchor="middle" font-family="Liberation Sans, sans-serif" fill="#1a1a1a">M18X1.5</text>
<text x="592.7" y="265.8" font-size="10" text-anchor="middle" font-family="Liberation Sans, sans-serif" fill="#1a1a1a">24</text>
<text x="638.5" y="265.8" font-size="10" text-anchor="middle" font-family="Liberation Sans, sans-serif" fill="#1a1a1a">10</text>
<text x="680.7" y="265.8" font-size="10" text-anchor="middle" font-family="Liberation Sans, sans-serif" fill="#1a1a1a">19</text>
<text x="721.5" y="265.8" font-size="10" text-anchor="middle" font-family="Liberation Sans, sans-serif" fill="#1a1a1a">12</text>
<text x="449.05" y="283.76" font-size="10" text-anchor="middle" font-family="Liberation Sans, sans-serif" fill="#1a1a1a" letter-spacing="0.12">W-9011111515</text>
<text x="532" y="283.76" font-size="10" text-anchor="middle" font-family="Liberation Sans, sans-serif" fill="#1a1a1a">M22X1.5</text>
<text x="592.7" y="283.76" font-size="10" text-anchor="middle" font-family="Liberation Sans, sans-serif" fill="#1a1a1a">28</text>
<text x="638.5" y="283.76" font-size="10" text-anchor="middle" font-family="Liberation Sans, sans-serif" fill="#1a1a1a">12</text>
<text x="680.7" y="283.76" font-size="10" text-anchor="middle" font-family="Liberation Sans, sans-serif" fill="#1a1a1a">19</text>
<text x="721.5" y="283.76" font-size="10" text-anchor="middle" font-family="Liberation Sans, sans-serif" fill="#1a1a1a">15</text>
<text x="449.05" y="301.72" font-size="10" text-anchor="middle" font-family="Liberation Sans, sans-serif" fill="#1a1a1a" letter-spacing="0.12">W-9011111818</text>
<text x="532" y="301.72" font-size="10" text-anchor="middle" font-family="Liberation Sans, sans-serif" fill="#1a1a1a">M26X1.5</text>
<text x="592.7" y="301.72" font-size="10" text-anchor="middle" font-family="Liberation Sans, sans-serif" fill="#1a1a1a">31</text>
<text x="638.5" y="301.72" font-size="10" text-anchor="middle" font-family="Liberation Sans, sans-serif" fill="#1a1a1a">15</text>
<text x="680.7" y="301.72" font-size="10" text-anchor="middle" font-family="Liberation Sans, sans-serif" fill="#1a1a1a">27</text>
<text x="721.5" y="301.72" font-size="10" text-anchor="middle" font-family="Liberation Sans, sans-serif" fill="#1a1a1a">18</text>
<text x="449.05" y="319.68" font-size="10" text-anchor="middle" font-family="Liberation Sans, sans-serif" fill="#1a1a1a" letter-spacing="0.12">W-9011112222</text>
<text x="532" y="319.68" font-size="10" text-anchor="middle" font-family="Liberation Sans, sans-serif" fill="#1a1a1a">M30X2</text>
<text x="592.7" y="319.68" font-size="10" text-anchor="middle" font-family="Liberation Sans, sans-serif" fill="#1a1a1a">35</text>
<text x="638.5" y="319.68" font-size="10" text-anchor="middle" font-family="Liberation Sans, sans-serif" fill="#1a1a1a">19</text>
<text x="680.7" y="319.68" font-size="10" text-anchor="middle" font-family="Liberation Sans, sans-serif" fill="#1a1a1a">30</text>
<text x="721.5" y="319.68" font-size="10" text-anchor="middle" font-family="Liberation Sans, sans-serif" fill="#1a1a1a">22</text>
<text x="449.05" y="337.64" font-size="10" text-anchor="middle" font-family="Liberation Sans, sans-serif" fill="#1a1a1a" letter-spacing="0.12">W-9011112828</text>
<text x="532" y="337.64" font-size="10" text-anchor="middle" font-family="Liberation Sans, sans-serif" fill="#1a1a1a">M36X2</text>
<text x="592.7" y="337.64" font-size="10" text-anchor="middle" font-family="Liberation Sans, sans-serif" fill="#1a1a1a">38</text>
<text x="638.5" y="337.64" font-size="10" text-anchor="middle" font-family="Liberation Sans, sans-serif" fill="#1a1a1a">24</text>
<text x="680.7" y="337.64" font-size="10" text-anchor="middle" font-family="Liberation Sans, sans-serif" fill="#1a1a1a">36</text>
<text x="721.5" y="337.64" font-size="10" text-anchor="middle" font-family="Liberation Sans, sans-serif" fill="#1a1a1a">28</text>
<text x="449.05" y="355.6" font-size="10" text-anchor="middle" font-family="Liberation Sans, sans-serif" fill="#1a1a1a" letter-spacing="0.12">W-9011113535</text>
<text x="532" y="355.6" font-size="10" text-anchor="middle" font-family="Liberation Sans, sans-serif" fill="#1a1a1a">M45X2</text>
<text x="592.7" y="355.6" font-size="10" text-anchor="middle" font-family="Liberation Sans, sans-serif" fill="#1a1a1a">45</text>
<text x="638.5" y="355.6" font-size="10" text-anchor="middle" font-family="Liberation Sans, sans-serif" fill="#1a1a1a">30</text>
<text x="680.7" y="355.6" font-size="10" text-anchor="middle" font-family="Liberation Sans, sans-serif" fill="#1a1a1a">41</text>
<text x="721.5" y="355.6" font-size="10" text-anchor="middle" font-family="Liberation Sans, sans-serif" fill="#1a1a1a">35</text>
<text x="449.05" y="373.56" font-size="10" text-anchor="middle" font-family="Liberation Sans, sans-serif" fill="#1a1a1a" letter-spacing="0.12">W-9011114242</text>
<text x="532" y="373.56" font-size="10" text-anchor="middle" font-family="Liberation Sans, sans-serif" fill="#1a1a1a">M52X2</text>
<text x="592.7" y="373.56" font-size="10" text-anchor="middle" font-family="Liberation Sans, sans-serif" fill="#1a1a1a">51</text>
<text x="638.5" y="373.56" font-size="10" text-anchor="middle" font-family="Liberation Sans, sans-serif" fill="#1a1a1a">36</text>
<text x="680.7" y="373.56" font-size="10" text-anchor="middle" font-family="Liberation Sans, sans-serif" fill="#1a1a1a">50</text>
<text x="721.5" y="373.56" font-size="10" text-anchor="middle" font-family="Liberation Sans, sans-serif" fill="#1a1a1a">42</text>
</svg>
</body></html>
